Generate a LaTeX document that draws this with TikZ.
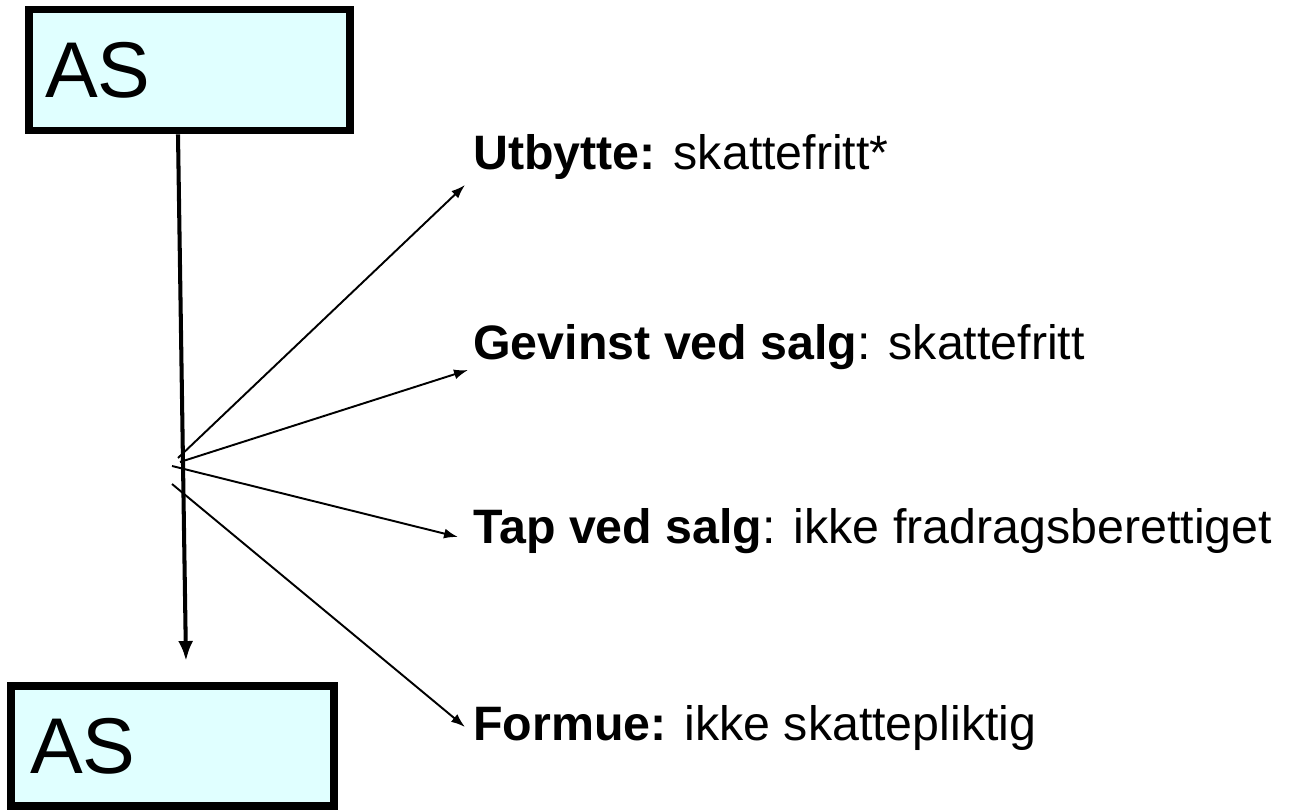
\documentclass[tikz,border=0pt]{standalone}
\usepackage{fontspec}
\setmainfont{Liberation Sans}
\usepackage{tikz}
\usetikzlibrary{arrows.meta,positioning,calc}
\definecolor{boxcyan}{HTML}{E0FFFF}

\begin{document}
\begin{tikzpicture}
	\tikzstyle{company} = [rectangle, draw=black, fill=boxcyan, line width=4.5pt,
	minimum height=2.42cm, align=left, font=\fontsize{45}{50}\selectfont]
	\tikzstyle{label} = [anchor=west, inner sep=0pt, font=\fontsize{27.5}{32}\selectfont]
	\tikzstyle{thinarrow} = [line width=1.1pt, -{Latex[length=0.28cm,width=0.2cm]}]
	\tikzstyle{mainarrow} = [line width=2.3pt, -{Latex[length=0.4cm,width=0.3cm]}]
	\useasboundingbox (0,0) rectangle (25.9,16.22);
	\node (asTop) [company, text width=5.78cm, inner xsep=0.32cm] at (3.79,14.82) {AS};
	\node (asBottom) [company, text width=5.70cm, inner xsep=0.38cm, minimum height=2.4cm] at (3.45,1.3) {AS};
	\node (utbytte) [label] at (9.46,13.08) {\textbf{Utbytte:} skattefritt*};
	\node (gevinst) [label] at (9.46,9.28) {\textbf{Gevinst ved salg}: skattefritt};
	\node (tap) [label] at (9.46,5.6) {\textbf{Tap ved salg}: ikke fradragsberettiget};
	\node (formue) [label] at (9.46,1.66) {\textbf{Formue:} ikke skattepliktig};
	\coordinate (fork1) at (3.56,7.06);
	\coordinate (fork2) at (3.6,6.98);
	\coordinate (fork3) at (3.44,6.9);
	\coordinate (fork4) at (3.44,6.54);
	\draw [mainarrow] ($(asTop.south)+(-0.23,0)$) -- ($(asBottom.north)+(0.27,0.42)$);
	\draw [thinarrow] (fork1) -- ($(utbytte.west)+(-0.16,-0.56)$);
	\draw [thinarrow] (fork2) -- ($(gevinst.west)+(-0.1,-0.46)$);
	\draw [thinarrow] (fork3) -- ($(tap.west)+(-0.3,-0.12)$);
	\draw [thinarrow] (fork4) -- ($(formue.west)+(-0.16,0.02)$);
\end{tikzpicture}
\end{document}
